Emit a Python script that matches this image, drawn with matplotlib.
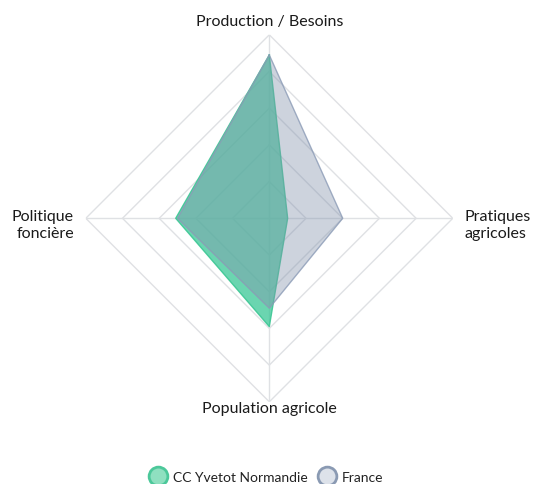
import numpy as np
import matplotlib
matplotlib.use("Agg")
import matplotlib.pyplot as plt
from matplotlib.lines import Line2D

categories = ["Production / Besoins", "Pratiques\nagricoles", "Population agricole", "Politique\nfoncière"]
cc_yvetot = [89, 10, 59, 51]
france = [89, 40, 49, 50]
series_names = ["CC Yvetot Normandie", "France"]
ring_levels = [20, 40, 60, 80, 100]

plt.rcParams['font.family'] = ['Lato', 'DejaVu Sans']

W, H = 535, 485
fig = plt.figure(figsize=(W / 100, H / 100), dpi=100)
cx, cy, R = 269.3, 219.3, 183.5
ax = fig.add_axes([(cx - R) / W, (H - cy - R) / H, 2 * R / W, 2 * R / H], projection='polar')
ax.set_theta_offset(np.pi / 2)
ax.set_theta_direction(-1)
ax.set_ylim(0, 100)
ax.grid(False)
ax.set_xticks([])
ax.set_yticks([])
ax.spines['polar'].set_visible(False)
ax.patch.set_alpha(0)

n = len(categories)
angles = np.arange(n) * 2 * np.pi / n
closed = np.append(angles, angles[0])

grid_col = '#dfe1e4'
for lev in ring_levels:
    ax.plot(closed, [lev] * (n + 1), color=grid_col, lw=1.0, zorder=1)
for a in angles:
    ax.plot([a, a], [0, 100], color=grid_col, lw=1.0, zorder=1)

cc = np.append(cc_yvetot, cc_yvetot[0])
ax.fill(closed, cc, color='#39c796', alpha=0.75, zorder=2, lw=0)
ax.plot(closed, cc, color='#3cc794', lw=1.0, alpha=0.9, zorder=3)

fr = np.append(france, france[0])
ax.fill(closed, fr, color='#8291ac', alpha=0.4, zorder=4, lw=0)
ax.plot(closed, fr, color='#8b9bb6', lw=1.0, alpha=0.8, zorder=5)

fs = 11.5
tc = '#1a1a1a'
def lab(i, r, dy, **kw):
    ax.annotate(categories[i], xy=(angles[i], r), xytext=(0, dy), textcoords='offset pixels',
                fontsize=fs, color=tc, annotation_clip=False, **kw)

lab(0, 107.5, 0, ha='center', va='center')
lab(1, 106.5, -6, ha='left', va='center', linespacing=1.25)
lab(2, 103.5, 0, ha='center', va='center')
lab(3, 106.5, -6, ha='right', va='center', linespacing=1.25, multialignment='right')

handles = [
    Line2D([], [], ls='none', marker='o', markersize=13.5, markerfacecolor='#8fe0c0', markeredgecolor='#4cc89a', markeredgewidth=2),
    Line2D([], [], ls='none', marker='o', markersize=13.5, markerfacecolor='#dde2ea', markeredgecolor='#8a9ab3', markeredgewidth=2),
]
leg = fig.legend(handles, series_names, loc='center', bbox_to_anchor=(266 / W, 1 - 478 / H), ncol=2,
                 frameon=False, fontsize=10, handlelength=1.4, handletextpad=0.35, columnspacing=0.7,
                 borderpad=0)
for t in leg.get_texts():
    t.set_color('#222222')

fig.savefig('out.png', dpi=100)
